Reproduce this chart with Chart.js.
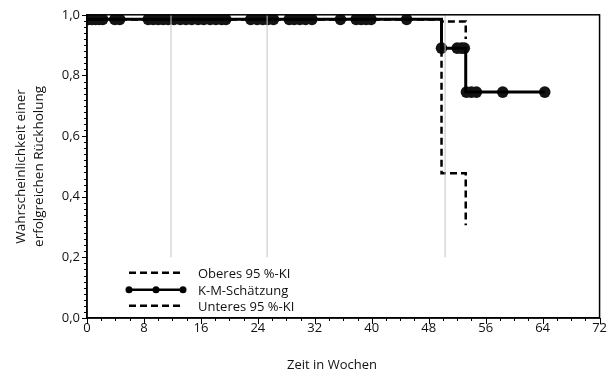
<!DOCTYPE html>
<html>
<head>
<meta charset="utf-8">
<script src="https://cdn.jsdelivr.net/npm/chart.js@4/dist/chart.umd.min.js"></script>
<style>
  html, body { margin: 0; padding: 0; background: #fff; }
  #wrap { width: 609px; height: 372px; }
</style>
</head>
<body>
<div id="wrap"><canvas id="kmChart"></canvas></div>
<script>
// Kaplan-Meier: Wahrscheinlichkeit einer erfolgreichen Rückholung

// step curves (horizontal first, then drop)
const kmTimes = [0, 49.8, 53.2, 64.3];
const kmSurv = [0.985, 0.89, 0.745, 0.745];
const upperTimes = [0, 49.8, 53.2];
const upperVals = [0.985, 0.978, 0.92];
const lowerTimes = [0, 49.8, 53.2];
const lowerVals = [0.985, 0.477, 0.306];

// censored observations (weeks)
const censorTimes = [
  0.2, 0.7, 1.2, 1.7, 2.2, 3.9, 4.6,
  8.6, 9.3, 10.0, 10.7, 11.4, 12.2, 13.1, 13.9, 14.7, 15.6, 16.4, 17.3, 18.1, 18.9, 19.5,
  23.0, 23.9, 24.7, 25.4, 26.2, 28.4, 29.1, 29.9, 30.7, 31.6,
  35.6, 37.8, 38.5, 39.2, 39.9, 44.9,
  49.8, 52.0, 52.6, 53.0,
  53.3, 54.0, 54.7, 58.4, 64.3
];

// thin grey reference lines
const refWeeks = [11.8, 25.3, 50.3];
const refFrom = 0.2;
const refTo = 1.0;

const xTicks = [0, 8, 16, 24, 32, 40, 48, 56, 64, 72];
const yTicks = [0, 0.2, 0.4, 0.6, 0.8, 1.0];

const legendLabels = ['Oberes 95 %-KI', 'K-M-Schätzung', 'Unteres 95 %-KI'];
const xTitle = 'Zeit in Wochen';

const FONT = '"Open Sans", "Noto Sans", sans-serif';

function kmAt(t) {
  let s = kmSurv[0];
  for (let i = 0; i < kmTimes.length; i++) {
    if (t >= kmTimes[i]) s = kmSurv[i];
  }
  return s;
}

function pts(xs, ys) {
  return xs.map((x, i) => ({ x: x, y: ys[i] }));
}

const refSets = refWeeks.map(w => ({
  data: [{ x: w, y: refFrom }, { x: w, y: refTo }],
  showLine: true,
  borderColor: '#c4c4c4',
  borderWidth: 1,
  pointRadius: 0
}));

// frame, minor/major ticks, x title and legend
const extras = {
  id: 'extras',
  afterDraw(chart) {
    const ctx = chart.ctx;
    const a = chart.chartArea;
    const xs = chart.scales.x;
    const ys = chart.scales.y;
    ctx.save();
    ctx.strokeStyle = '#000';
    ctx.lineWidth = 1.5;
    ctx.strokeRect(a.left, a.top, a.right - a.left, a.bottom - a.top);

    ctx.lineWidth = 1;
    ctx.beginPath();
    for (let v = 0; v <= 72; v += 2) {
      const px = Math.round(xs.getPixelForValue(v)) + 0.5;
      const len = v % 8 === 0 ? 6 : 3;
      ctx.moveTo(px, a.bottom);
      ctx.lineTo(px, a.bottom + len);
    }
    for (let k = 0; k <= 50; k++) {
      const py = Math.round(ys.getPixelForValue(k * 0.02)) + 0.5;
      const len = k % 10 === 0 ? 5 : 3;
      ctx.moveTo(a.left, py);
      ctx.lineTo(a.left - len, py);
    }
    ctx.stroke();

    ctx.font = '13px ' + FONT;
    ctx.fillStyle = '#111';
    ctx.textAlign = 'center';
    ctx.textBaseline = 'middle';
    ctx.fillText(xTitle, a.left + 245, 365);

    // legend
    const lx = a.left + 42, lw = 54, tx = a.left + 111;
    const rows = [a.top + 258, a.top + 275, a.top + 291];
    const sets = chart.data.datasets;
    const legendSets = [sets[3], sets[5], sets[4]];
    ctx.textAlign = 'left';
    rows.forEach((ry, i) => {
      const ds = legendSets[i];
      ctx.strokeStyle = '#000';
      ctx.lineWidth = 2.5;
      ctx.setLineDash(ds.borderDash || []);
      ctx.beginPath();
      ctx.moveTo(lx, ry);
      ctx.lineTo(lx + lw, ry);
      ctx.stroke();
      ctx.setLineDash([]);
      if (i === 1) {
        [0, 0.5, 1].forEach(f => {
          ctx.beginPath();
          ctx.arc(lx + lw * f, ry, 3.5, 0, Math.PI * 2);
          ctx.fillStyle = '#000';
          ctx.fill();
        });
      }
      ctx.fillStyle = '#111';
      ctx.fillText(legendLabels[i], tx, ry + 1);
    });
    ctx.restore();
  }
};

const ctx = document.getElementById('kmChart').getContext('2d');
new Chart(ctx, {
  type: 'scatter',
  data: {
    datasets: refSets.concat([
      {
        label: legendLabels[0],
        data: pts(upperTimes, upperVals),
        showLine: true,
        stepped: 'before',
        borderColor: '#000',
        borderWidth: 2.5,
        borderDash: [7, 4],
        pointRadius: 0
      },
      {
        label: legendLabels[2],
        data: pts(lowerTimes, lowerVals),
        showLine: true,
        stepped: 'before',
        borderColor: '#000',
        borderWidth: 2.5,
        borderDash: [7, 4],
        pointRadius: 0
      },
      {
        label: legendLabels[1],
        data: pts(kmTimes, kmSurv),
        showLine: true,
        stepped: 'before',
        borderColor: '#000',
        borderWidth: 3,
        pointRadius: 0
      },
      {
        label: 'zensiert',
        data: censorTimes.map(t => ({ x: t, y: kmAt(t) })),
        showLine: false,
        pointRadius: 5.8,
        pointBackgroundColor: '#141414',
        pointBorderColor: '#141414',
        pointBorderWidth: 0
      }
    ])
  },
  options: {
    responsive: true,
    maintainAspectRatio: false,
    animation: false,
    layout: { padding: { left: 0, right: 9, top: 14, bottom: 0 } },
    plugins: {
      legend: { display: false },
      tooltip: { enabled: false }
    },
    scales: {
      x: {
        type: 'linear',
        min: 0,
        max: 72,
        afterFit(scale) { scale.height = 54; },
        afterBuildTicks(scale) { scale.ticks = xTicks.map(v => ({ value: v })); },
        grid: { display: true, drawOnChartArea: false, drawTicks: false },
        border: { color: '#000', width: 1.5 },
        ticks: {
          padding: 2,
          color: '#111',
          font: { family: FONT, size: 13 },
          maxRotation: 0
        }
      },
      y: {
        type: 'linear',
        min: 0,
        max: 1,
        afterFit(scale) { scale.width = 87; },
        afterBuildTicks(scale) { scale.ticks = yTicks.map(v => ({ value: v })); },
        grid: { display: true, drawOnChartArea: false, drawTicks: false },
        border: { color: '#000', width: 1.5 },
        ticks: {
          padding: 7,
          color: '#111',
          font: { family: FONT, size: 13 },
          callback: v => v.toFixed(1).replace('.', ',')
        },
        title: {
          display: true,
          text: ['Wahrscheinlichkeit einer', 'erfolgreichen Rückholung'],
          color: '#111',
          font: { family: FONT, size: 13.5, lineHeight: 1.35 },
          padding: { top: 12, bottom: 0 }
        }
      }
    }
  },
  plugins: [extras]
});
</script>
</body>
</html>
